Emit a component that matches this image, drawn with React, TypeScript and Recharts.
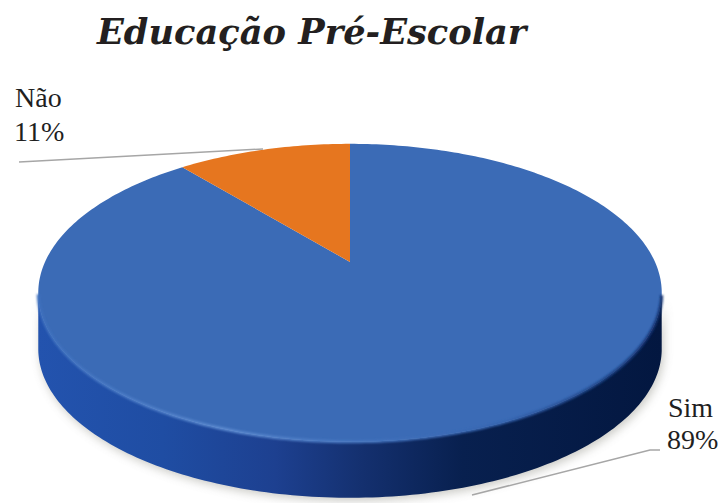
import React from "react";
import { PieChart, Pie } from "recharts";

const categories = ["Sim", "Não"];
const shares = [89, 11];
const colors = ["#3B6BB6", "#E6761F"];
const data = categories.map((name, i) => ({ name, value: shares[i], fill: colors[i] }));

const VIEW_SQUASH = 0.4675; // vertical foreshortening of the disc
const PERSPECTIVE = -0.2068; // near edge looks larger than far edge
const DEPTH = 56;

const project = (cx: number, cy: number, r: number, deg: number) => {
  const a = (deg * Math.PI) / 180;
  const u = Math.cos(a);
  const v = -Math.sin(a);
  const w = 1 + PERSPECTIVE * v;
  return { x: cx + (r * u) / w, y: cy + (141.2 / 302) * r * v / w, v };
};

const arcPoints = (cx: number, cy: number, r: number, start: number, end: number) => {
  const n = Math.max(2, Math.ceil(Math.abs(end - start)));
  const pts = [];
  for (let i = 0; i <= n; i++) pts.push(project(cx, cy, r, start + ((end - start) * i) / n));
  return pts;
};

const toPath = (pts: { x: number; y: number }[]) =>
  pts.map((p, i) => `${i ? "L" : "M"}${p.x.toFixed(2)},${p.y.toFixed(2)}`).join("");

const Slice3D = (props: any) => {
  const { cx, cy, outerRadius, startAngle, endAngle, fill } = props;
  const arc = arcPoints(cx, cy, outerRadius, startAngle, endAngle);
  const front = arc.filter((p) => p.v >= -PERSPECTIVE);
  const hasSide = front.length > 1;
  const sidePath = hasSide
    ? toPath(front) + toPath([...front].reverse().map((p) => ({ x: p.x, y: p.y + DEPTH }))).replace("M", "L") + "Z"
    : "";
  const rim = toPath(front);
  return (
    <g>
      {hasSide && (
        <>
          <defs>
            <linearGradient id="sideGrad" x1="0" y1="0" x2="1" y2="0">
              <stop offset="0" stopColor="#2353AE" />
              <stop offset="0.2" stopColor="#1F4DA3" />
              <stop offset="0.38" stopColor="#1D4090" />
              <stop offset="0.52" stopColor="#14306F" />
              <stop offset="0.68" stopColor="#08204F" />
              <stop offset="1" stopColor="#031740" />
            </linearGradient>
            <linearGradient id="rimGrad" x1="0" y1="0" x2="1" y2="0">
              <stop offset="0" stopColor="#3E70BE" />
              <stop offset="0.3" stopColor="#5C8AD0" />
              <stop offset="0.5" stopColor="#4676C0" />
              <stop offset="0.75" stopColor="#3563AE" />
              <stop offset="1" stopColor="#12306E" />
            </linearGradient>
            <filter id="softShadow" x="-10%" y="-10%" width="120%" height="130%">
              <feGaussianBlur stdDeviation="5" />
            </filter>
            <filter id="softRim" x="-5%" y="-5%" width="110%" height="110%">
              <feGaussianBlur stdDeviation="0.9" />
            </filter>
          </defs>
          <path d={sidePath} fill="#8a8a80" opacity={0.45} filter="url(#softShadow)" transform="translate(2,3)" />
          <path d={sidePath} fill="url(#sideGrad)" />
        </>
      )}
      <path d={`M${cx},${cy}` + toPath(arc).replace("M", "L") + "Z"} fill={fill} />
      {hasSide && <path d={rim} fill="none" stroke="url(#rimGrad)" strokeWidth={3} filter="url(#softRim)" />}
    </g>
  );
};

const serif = "'Liberation Serif', serif";
const labelSpots: Record<string, { x: number; y1: number; y2: number; line: string; anchor: "start" | "end" }> = {
  Sim: { x: 668, y1: 417, y2: 449, line: "M472,495L650,450L660,450", anchor: "start" },
  "Não": { x: 15, y1: 107, y2: 141, line: "M19,162L263,149", anchor: "start" },
};

const SliceLabel = (props: any) => {
  const { name, percent } = props;
  const s = labelSpots[name];
  return (
    <g>
      <path d={s.line} fill="none" stroke="#A6A6A6" strokeWidth={1.5} />
      <text x={s.x} y={s.y1} fontFamily={serif} fontSize={28} fill="#1f1f1f" textAnchor={s.anchor}>{name}</text>
      <text x={s.x - 1} y={s.y2} fontFamily={serif} fontSize={28} fill="#1f1f1f" textAnchor={s.anchor}>{`${Math.round(percent * 100)}%`}</text>
    </g>
  );
};

export default function App() {
  return (
    <div style={{ position: "absolute", left: 0, top: 0, width: 723, height: 503, overflow: "hidden", background: "#fff" }}>
      <div
        style={{
          position: "absolute",
          left: 97,
          top: 10,
          fontFamily: "'DejaVu Serif', serif",
          fontWeight: "bold",
          fontStyle: "italic",
          fontSize: 35.2,
          lineHeight: "44px",
          color: "#231f20",
          whiteSpace: "nowrap",
        }}
      >
        Educação Pré-Escolar
      </div>
      <PieChart width={723} height={503} margin={{ top: 0, right: 0, bottom: 0, left: 0 }}>
        <Pie
          data={data}
          dataKey="value"
          nameKey="name"
          cx={350}
          cy={262}
          outerRadius={305}
          startAngle={90}
          endAngle={-270}
          stroke="none"
          shape={Slice3D}
          label={SliceLabel}
          labelLine={false}
          isAnimationActive={false}
        />
      </PieChart>
    </div>
  );
}
